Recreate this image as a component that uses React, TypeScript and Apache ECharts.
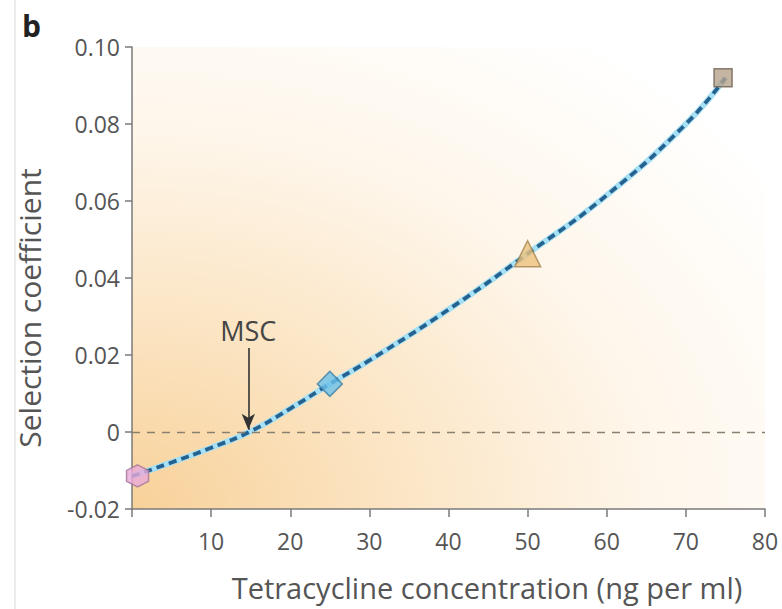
import React, { useEffect, useRef } from "react";
import * as echarts from "echarts";

const curveX = [0, 5, 10, 15, 20, 25, 30, 40, 50, 60, 70, 75];
const curveY = [-0.0115, -0.0079, -0.0041, 0.0002, 0.0061, 0.0125, 0.0186, 0.0318, 0.0463, 0.0615, 0.08, 0.092];

const markerNames = ["hexagon", "diamond", "triangle", "square"];
const markerX = [0.7, 25, 50, 74.7];
const markerY = [-0.0114, 0.0125, 0.0463, 0.092];
const markerFill = ["#e8a9d8", "#6cc0ea", "#ecc27c", "#b7a28c"];
const markerBorder = ["#a27595", "#3d7fa6", "#a48352", "#6f6052"];
const markerSymbol = [
  "path://M0,-1 L0.866,-0.5 L0.866,0.5 L0,1 L-0.866,0.5 L-0.866,-0.5Z",
  "diamond",
  "triangle",
  "rect",
];
const markerSize = [22, 25, 26, 18];

const msc = 14.7;
const mscArrowTop = 0.0218;
const mscArrowTip = 0.0006;
const xTicks = [0, 10, 20, 30, 40, 50, 60, 70, 80];
const yTicks = [-0.02, 0, 0.02, 0.04, 0.06, 0.08, 0.1];

const FONT = "'Open Sans', 'Noto Sans', sans-serif";

export default function App() {
  const ref = useRef<HTMLDivElement>(null);
  useEffect(() => {
    if (!ref.current) return;
    const chart = echarts.init(ref.current, null, { renderer: "svg" });
    const curve = curveX.map((x, i) => [x, curveY[i]]);
    chart.setOption({
      animation: false,
      backgroundColor: "#ffffff",
      grid: {
        left: 132,
        right: 17,
        top: 47,
        bottom: 100,
        show: true,
        borderWidth: 0,
        backgroundColor: {
          type: "radial",
          x: 0,
          y: 1,
          r: 1.25,
          colorStops: [
            { offset: 0, color: "#f8d199" },
            { offset: 0.3, color: "#fbe3c0" },
            { offset: 0.65, color: "#fef6ea" },
            { offset: 1, color: "#ffffff" },
          ],
        },
      },
      xAxis: {
        type: "value",
        min: xTicks[0],
        max: xTicks[xTicks.length - 1],
        interval: 10,
        splitLine: { show: false },
        axisLine: { show: true, onZero: false, lineStyle: { color: "#7a7a7a", width: 1.5 } },
        axisTick: { show: true, length: 8, lineStyle: { color: "#7a7a7a", width: 1.5 } },
        axisLabel: {
          color: "#555",
          fontSize: 23,
          fontFamily: FONT,
          margin: 20,
          formatter: (v: number) => (v === 0 ? "" : String(v)),
        },
      },
      yAxis: {
        type: "value",
        min: yTicks[0],
        max: yTicks[yTicks.length - 1],
        interval: 0.02,
        splitLine: { show: false },
        axisLine: { show: true, onZero: false, lineStyle: { color: "#7a7a7a", width: 1.5 } },
        axisTick: { show: true, length: 7, lineStyle: { color: "#7a7a7a", width: 1.5 } },
        axisLabel: {
          color: "#555",
          fontSize: 23,
          fontFamily: FONT,
          margin: 12,
          formatter: (v: number) => (Math.abs(v) < 1e-9 ? "0" : v.toFixed(2)),
        },
      },
      graphic: [
        { type: "line", shape: { x1: 15, y1: 0, x2: 15, y2: 609 }, style: { stroke: "#d8d8d8", lineWidth: 1 } },
        {
          type: "text",
          left: 22,
          top: 10,
          style: { text: "b", fontSize: 30, fontWeight: "bold", fill: "#222", fontFamily: FONT },
        },
        {
          type: "text",
          x: 29,
          y: 308,
          rotation: Math.PI / 2,
          style: {
            text: "Selection coefficient",
            fontSize: 30,
            fill: "#555",
            fontFamily: FONT,
            align: "center",
            verticalAlign: "middle",
          },
        },
        {
          type: "text",
          x: 487,
          y: 587,
          style: {
            text: "Tetracycline concentration (ng per ml)",
            fontSize: 29,
            fill: "#555",
            fontFamily: FONT,
            align: "center",
            verticalAlign: "middle",
          },
        },
      ],
      series: [
        {
          type: "line",
          data: curve,
          smooth: true,
          symbol: "none",
          lineStyle: { color: "#a6e0f4", width: 6 },
          z: 2,
          markLine: {
            silent: true,
            symbol: "none",
            label: { show: false },
            lineStyle: { color: "#8a8070", type: [8, 7], width: 1.4 },
            data: [{ yAxis: 0 }],
          },
        },
        {
          type: "line",
          data: curve,
          smooth: true,
          symbol: "none",
          lineStyle: { color: "#25628f", width: 3.8, type: [8, 5] },
          z: 3,
          markLine: {
            silent: true,
            data: [
              [
                {
                  coord: [msc, mscArrowTop],
                  symbol: "none",
                  label: {
                    show: true,
                    position: "start",
                    formatter: "MSC",
                    color: "#444",
                    fontSize: 27,
                    fontFamily: FONT,
                    distance: 4,
                  },
                },
                { coord: [msc, mscArrowTip], symbol: "arrow", symbolSize: [10, 16] },
              ],
            ],
            lineStyle: { color: "#333", type: "solid", width: 1.6 },
            label: { show: true, position: "start", formatter: "MSC" },
          },
        },
        {
          type: "scatter",
          z: 5,
          clip: false,
          data: markerNames.map((n, i) => ({
            name: n,
            value: [markerX[i], markerY[i]],
            symbol: markerSymbol[i],
            symbolSize: markerSize[i],
            itemStyle: { color: markerFill[i], borderColor: markerBorder[i], borderWidth: 1.5 },
          })),
        },
      ],
    });
    return () => chart.dispose();
  }, []);
  return <div ref={ref} style={{ position: "fixed", left: 0, top: 0, width: 782, height: 609 }} />;
}
